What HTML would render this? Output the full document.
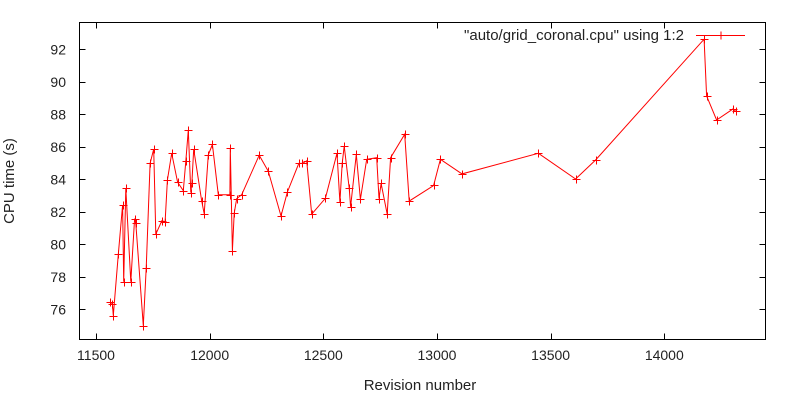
<!DOCTYPE html>
<html><head><meta charset="utf-8"><style>
html,body{margin:0;padding:0;background:#fff;}
svg{display:block;font-family:"Liberation Sans","DejaVu Sans",sans-serif;}
</style></head><body>
<svg id="chart" width="800" height="400" viewBox="0 0 800 400">
<rect x="0" y="0" width="800" height="400" fill="#fff"/>
<g id="grid-ticks"></g>
<g id="series"></g>
<rect x="79.5" y="22.5" width="686" height="317" fill="none" stroke="#000" stroke-width="1"/>
<text x="14" y="181" font-size="15" fill="#222" text-anchor="middle" transform="rotate(-90 14 181)">CPU time (s)</text>
<text x="420" y="390" font-size="15" fill="#222" text-anchor="middle">Revision number</text>
<g>
<text x="684" y="40" font-size="15" fill="#222" text-anchor="end">"auto/grid_coronal.cpu" using 1:2</text>
<line x1="696" y1="35.5" x2="745" y2="35.5" stroke="#f00" stroke-width="1"/>
<path d="M717 35.5h8M721 31.5v8" stroke="#f00" stroke-width="1"/>
</g>
</svg>
<script>
const revisions = [11562,11572,11576,11598,11617,11622,11631,11653,11670,11675,11708,11721,11738,11754,11763,11790,11804,11814,11833,11859,11884,11895,11906,11917,11922,11930,11965,11976,11994,12012,12038,12089,12091,12100,12108,12119,12141,12218,12258,12314,12342,12392,12408,12427,12449,12509,12560,12573,12583,12592,12614,12620,12645,12663,12691,12735,12745,12754,12781,12796,12858,12878,12985,13015,13110,13446,13610,13698,14175,14186,14230,14303,14314];
const cpuTimes = [76.47,76.33,75.61,79.38,82.42,77.70,83.45,77.70,81.58,81.29,74.99,78.52,84.98,85.86,80.62,81.45,81.37,83.96,85.60,83.82,83.30,85.11,87.03,83.18,83.79,85.86,82.66,81.88,85.50,86.15,83.05,83.05,85.91,79.61,81.91,82.81,83.05,85.48,84.49,81.74,83.22,84.98,84.98,85.14,81.85,82.83,85.60,82.60,84.98,86.05,83.45,82.31,85.54,82.77,85.23,85.33,82.81,83.75,81.85,85.33,86.77,82.66,83.62,85.23,84.33,85.60,84.02,85.19,92.62,89.13,87.65,88.34,88.18];
const xTicks = [11500,12000,12500,13000,13500,14000];
const yTicks = [76,78,80,82,84,86,88,90,92];

const NS="http://www.w3.org/2000/svg";
const L=79.5,R=765.5,T=22.5,B=339.5;
function xs(v){return 96+(v-11500)*(664.3-96)/2500;}
function ys(v){return 49.3+(92-v)*(309.3-49.3)/16;}
const tg=document.getElementById('grid-ticks');
function mk(tag,attrs,parent){const e=document.createElementNS(NS,tag);for(const k in attrs)e.setAttribute(k,attrs[k]);parent.appendChild(e);return e;}
xTicks.forEach(v=>{
  const x=Math.round(xs(v))+0.5;
  const t1=mk('line',{x1:x,y1:B,x2:x,y2:B-6,stroke:'#000'},tg);
  
  
  const t2=mk('line',{x1:x,y1:T,x2:x,y2:T+6,stroke:'#000'},tg);
  
  
  const lb=mk('text',{x:xs(v),y:360,'font-size':14,fill:'#222','text-anchor':'middle'},tg);
  lb.textContent=v;
  
  
});
yTicks.forEach(v=>{
  const y=Math.round(ys(v))+0.5;
  const t1=mk('line',{x1:L,y1:y,x2:L+6,y2:y,stroke:'#000'},tg);
  
  
  const t2=mk('line',{x1:R,y1:y,x2:R-6,y2:y,stroke:'#000'},tg);
  
  
  const lb=mk('text',{x:66,y:ys(v)+5,'font-size':14,fill:'#222','text-anchor':'end'},tg);
  lb.textContent=v;
  
  
});
const sg=document.getElementById('series');
const pts=revisions.map((r,i)=>xs(r).toFixed(1)+','+ys(cpuTimes[i]).toFixed(1)).join(' ');
const line=mk('polyline',{points:pts,fill:'none',stroke:'#f00','stroke-width':1},sg);


revisions.forEach((r,i)=>{
  const x=Math.round(xs(r))+0.5,y=Math.round(ys(cpuTimes[i]))+0.5;
  const p=mk('path',{d:`M${x-4} ${y}h8M${x} ${y-4}v8`,stroke:'#f00','stroke-width':1},sg);
  
  
});
</script>
</body></html>
